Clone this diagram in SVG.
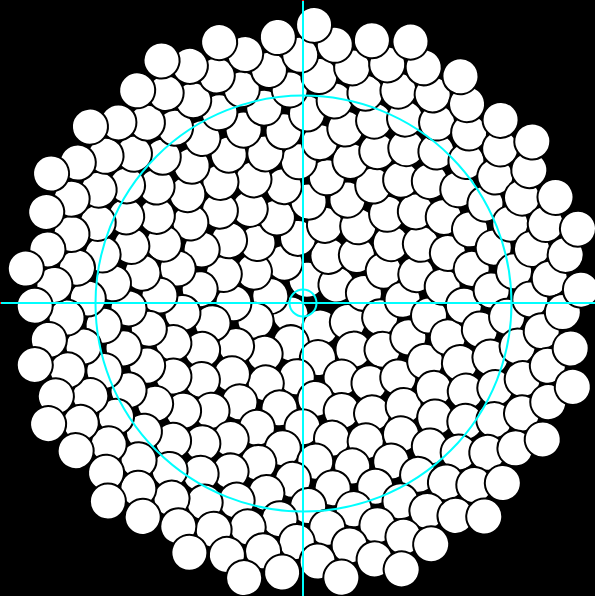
<svg xmlns="http://www.w3.org/2000/svg" width="595" height="596" viewBox="0 0 595 596">
<style>
#seeds circle{fill:#fff;stroke:#000;stroke-width:0.1176}
.cy{fill:none;stroke:#00ffff;stroke-width:2}
</style>
<rect x="0" y="0" width="595" height="596" fill="#000"/>
<g id="seeds" transform="translate(303.5 303.5) rotate(2.58) scale(17)">
<circle r="1.0588" transform="rotate(137.51)" cx="1"/>
<circle r="1.0588" transform="rotate(275.02)" cx="1.414"/>
<circle r="1.0588" transform="rotate(412.52)" cx="1.732"/>
<circle r="1.0588" transform="rotate(550.03)" cx="2"/>
<circle r="1.0588" transform="rotate(687.54)" cx="2.236"/>
<circle r="1.0588" transform="rotate(825.05)" cx="2.449"/>
<circle r="1.0588" transform="rotate(962.55)" cx="2.646"/>
<circle r="1.0588" transform="rotate(1100.06)" cx="2.828"/>
<circle r="1.0588" transform="rotate(1237.57)" cx="3"/>
<circle r="1.0588" transform="rotate(1375.08)" cx="3.162"/>
<circle r="1.0588" transform="rotate(1512.59)" cx="3.317"/>
<circle r="1.0588" transform="rotate(1650.09)" cx="3.464"/>
<circle r="1.0588" transform="rotate(1787.60)" cx="3.606"/>
<circle r="1.0588" transform="rotate(1925.11)" cx="3.742"/>
<circle r="1.0588" transform="rotate(2062.62)" cx="3.873"/>
<circle r="1.0588" transform="rotate(2200.12)" cx="4"/>
<circle r="1.0588" transform="rotate(2337.63)" cx="4.123"/>
<circle r="1.0588" transform="rotate(2475.14)" cx="4.243"/>
<circle r="1.0588" transform="rotate(2612.65)" cx="4.359"/>
<circle r="1.0588" transform="rotate(2750.16)" cx="4.472"/>
<circle r="1.0588" transform="rotate(2887.66)" cx="4.583"/>
<circle r="1.0588" transform="rotate(3025.17)" cx="4.690"/>
<circle r="1.0588" transform="rotate(3162.68)" cx="4.796"/>
<circle r="1.0588" transform="rotate(3300.19)" cx="4.899"/>
<circle r="1.0588" transform="rotate(3437.69)" cx="5"/>
<circle r="1.0588" transform="rotate(3575.20)" cx="5.099"/>
<circle r="1.0588" transform="rotate(3712.71)" cx="5.196"/>
<circle r="1.0588" transform="rotate(3850.22)" cx="5.292"/>
<circle r="1.0588" transform="rotate(3987.73)" cx="5.385"/>
<circle r="1.0588" transform="rotate(4125.23)" cx="5.477"/>
<circle r="1.0588" transform="rotate(4262.74)" cx="5.568"/>
<circle r="1.0588" transform="rotate(4400.25)" cx="5.657"/>
<circle r="1.0588" transform="rotate(4537.76)" cx="5.745"/>
<circle r="1.0588" transform="rotate(4675.26)" cx="5.831"/>
<circle r="1.0588" transform="rotate(4812.77)" cx="5.916"/>
<circle r="1.0588" transform="rotate(4950.28)" cx="6"/>
<circle r="1.0588" transform="rotate(5087.79)" cx="6.083"/>
<circle r="1.0588" transform="rotate(5225.29)" cx="6.164"/>
<circle r="1.0588" transform="rotate(5362.80)" cx="6.245"/>
<circle r="1.0588" transform="rotate(5500.31)" cx="6.325"/>
<circle r="1.0588" transform="rotate(5637.82)" cx="6.403"/>
<circle r="1.0588" transform="rotate(5775.33)" cx="6.481"/>
<circle r="1.0588" transform="rotate(5912.83)" cx="6.557"/>
<circle r="1.0588" transform="rotate(6050.34)" cx="6.633"/>
<circle r="1.0588" transform="rotate(6187.85)" cx="6.708"/>
<circle r="1.0588" transform="rotate(6325.36)" cx="6.782"/>
<circle r="1.0588" transform="rotate(6462.86)" cx="6.856"/>
<circle r="1.0588" transform="rotate(6600.37)" cx="6.928"/>
<circle r="1.0588" transform="rotate(6737.88)" cx="7"/>
<circle r="1.0588" transform="rotate(6875.39)" cx="7.071"/>
<circle r="1.0588" transform="rotate(7012.90)" cx="7.141"/>
<circle r="1.0588" transform="rotate(7150.40)" cx="7.211"/>
<circle r="1.0588" transform="rotate(7287.91)" cx="7.280"/>
<circle r="1.0588" transform="rotate(7425.42)" cx="7.348"/>
<circle r="1.0588" transform="rotate(7562.93)" cx="7.416"/>
<circle r="1.0588" transform="rotate(7700.43)" cx="7.483"/>
<circle r="1.0588" transform="rotate(7837.94)" cx="7.550"/>
<circle r="1.0588" transform="rotate(7975.45)" cx="7.616"/>
<circle r="1.0588" transform="rotate(8112.96)" cx="7.681"/>
<circle r="1.0588" transform="rotate(8250.47)" cx="7.746"/>
<circle r="1.0588" transform="rotate(8387.97)" cx="7.810"/>
<circle r="1.0588" transform="rotate(8525.48)" cx="7.874"/>
<circle r="1.0588" transform="rotate(8662.99)" cx="7.937"/>
<circle r="1.0588" transform="rotate(8800.50)" cx="8"/>
<circle r="1.0588" transform="rotate(8938.00)" cx="8.062"/>
<circle r="1.0588" transform="rotate(9075.51)" cx="8.124"/>
<circle r="1.0588" transform="rotate(9213.02)" cx="8.185"/>
<circle r="1.0588" transform="rotate(9350.53)" cx="8.246"/>
<circle r="1.0588" transform="rotate(9488.04)" cx="8.307"/>
<circle r="1.0588" transform="rotate(9625.54)" cx="8.367"/>
<circle r="1.0588" transform="rotate(9763.05)" cx="8.426"/>
<circle r="1.0588" transform="rotate(9900.56)" cx="8.485"/>
<circle r="1.0588" transform="rotate(10038.07)" cx="8.544"/>
<circle r="1.0588" transform="rotate(10175.57)" cx="8.602"/>
<circle r="1.0588" transform="rotate(10313.08)" cx="8.660"/>
<circle r="1.0588" transform="rotate(10450.59)" cx="8.718"/>
<circle r="1.0588" transform="rotate(10588.10)" cx="8.775"/>
<circle r="1.0588" transform="rotate(10725.61)" cx="8.832"/>
<circle r="1.0588" transform="rotate(10863.11)" cx="8.888"/>
<circle r="1.0588" transform="rotate(11000.62)" cx="8.944"/>
<circle r="1.0588" transform="rotate(11138.13)" cx="9"/>
<circle r="1.0588" transform="rotate(11275.64)" cx="9.055"/>
<circle r="1.0588" transform="rotate(11413.14)" cx="9.110"/>
<circle r="1.0588" transform="rotate(11550.65)" cx="9.165"/>
<circle r="1.0588" transform="rotate(11688.16)" cx="9.220"/>
<circle r="1.0588" transform="rotate(11825.67)" cx="9.274"/>
<circle r="1.0588" transform="rotate(11963.18)" cx="9.327"/>
<circle r="1.0588" transform="rotate(12100.68)" cx="9.381"/>
<circle r="1.0588" transform="rotate(12238.19)" cx="9.434"/>
<circle r="1.0588" transform="rotate(12375.70)" cx="9.487"/>
<circle r="1.0588" transform="rotate(12513.21)" cx="9.539"/>
<circle r="1.0588" transform="rotate(12650.71)" cx="9.592"/>
<circle r="1.0588" transform="rotate(12788.22)" cx="9.644"/>
<circle r="1.0588" transform="rotate(12925.73)" cx="9.695"/>
<circle r="1.0588" transform="rotate(13063.24)" cx="9.747"/>
<circle r="1.0588" transform="rotate(13200.75)" cx="9.798"/>
<circle r="1.0588" transform="rotate(13338.25)" cx="9.849"/>
<circle r="1.0588" transform="rotate(13475.76)" cx="9.899"/>
<circle r="1.0588" transform="rotate(13613.27)" cx="9.950"/>
<circle r="1.0588" transform="rotate(13750.78)" cx="10"/>
<circle r="1.0588" transform="rotate(13888.28)" cx="10.050"/>
<circle r="1.0588" transform="rotate(14025.79)" cx="10.100"/>
<circle r="1.0588" transform="rotate(14163.30)" cx="10.149"/>
<circle r="1.0588" transform="rotate(14300.81)" cx="10.198"/>
<circle r="1.0588" transform="rotate(14438.32)" cx="10.247"/>
<circle r="1.0588" transform="rotate(14575.82)" cx="10.296"/>
<circle r="1.0588" transform="rotate(14713.33)" cx="10.344"/>
<circle r="1.0588" transform="rotate(14850.84)" cx="10.392"/>
<circle r="1.0588" transform="rotate(14988.35)" cx="10.440"/>
<circle r="1.0588" transform="rotate(15125.85)" cx="10.488"/>
<circle r="1.0588" transform="rotate(15263.36)" cx="10.536"/>
<circle r="1.0588" transform="rotate(15400.87)" cx="10.583"/>
<circle r="1.0588" transform="rotate(15538.38)" cx="10.630"/>
<circle r="1.0588" transform="rotate(15675.89)" cx="10.677"/>
<circle r="1.0588" transform="rotate(15813.39)" cx="10.724"/>
<circle r="1.0588" transform="rotate(15950.90)" cx="10.770"/>
<circle r="1.0588" transform="rotate(16088.41)" cx="10.817"/>
<circle r="1.0588" transform="rotate(16225.92)" cx="10.863"/>
<circle r="1.0588" transform="rotate(16363.42)" cx="10.909"/>
<circle r="1.0588" transform="rotate(16500.93)" cx="10.954"/>
<circle r="1.0588" transform="rotate(16638.44)" cx="11"/>
<circle r="1.0588" transform="rotate(16775.95)" cx="11.045"/>
<circle r="1.0588" transform="rotate(16913.45)" cx="11.091"/>
<circle r="1.0588" transform="rotate(17050.96)" cx="11.136"/>
<circle r="1.0588" transform="rotate(17188.47)" cx="11.180"/>
<circle r="1.0588" transform="rotate(17325.98)" cx="11.225"/>
<circle r="1.0588" transform="rotate(17463.49)" cx="11.269"/>
<circle r="1.0588" transform="rotate(17600.99)" cx="11.314"/>
<circle r="1.0588" transform="rotate(17738.50)" cx="11.358"/>
<circle r="1.0588" transform="rotate(17876.01)" cx="11.402"/>
<circle r="1.0588" transform="rotate(18013.52)" cx="11.446"/>
<circle r="1.0588" transform="rotate(18151.02)" cx="11.489"/>
<circle r="1.0588" transform="rotate(18288.53)" cx="11.533"/>
<circle r="1.0588" transform="rotate(18426.04)" cx="11.576"/>
<circle r="1.0588" transform="rotate(18563.55)" cx="11.619"/>
<circle r="1.0588" transform="rotate(18701.06)" cx="11.662"/>
<circle r="1.0588" transform="rotate(18838.56)" cx="11.705"/>
<circle r="1.0588" transform="rotate(18976.07)" cx="11.747"/>
<circle r="1.0588" transform="rotate(19113.58)" cx="11.790"/>
<circle r="1.0588" transform="rotate(19251.09)" cx="11.832"/>
<circle r="1.0588" transform="rotate(19388.59)" cx="11.874"/>
<circle r="1.0588" transform="rotate(19526.10)" cx="11.916"/>
<circle r="1.0588" transform="rotate(19663.61)" cx="11.958"/>
<circle r="1.0588" transform="rotate(19801.12)" cx="12"/>
<circle r="1.0588" transform="rotate(19938.63)" cx="12.042"/>
<circle r="1.0588" transform="rotate(20076.13)" cx="12.083"/>
<circle r="1.0588" transform="rotate(20213.64)" cx="12.124"/>
<circle r="1.0588" transform="rotate(20351.15)" cx="12.166"/>
<circle r="1.0588" transform="rotate(20488.66)" cx="12.207"/>
<circle r="1.0588" transform="rotate(20626.16)" cx="12.247"/>
<circle r="1.0588" transform="rotate(20763.67)" cx="12.288"/>
<circle r="1.0588" transform="rotate(20901.18)" cx="12.329"/>
<circle r="1.0588" transform="rotate(21038.69)" cx="12.369"/>
<circle r="1.0588" transform="rotate(21176.20)" cx="12.410"/>
<circle r="1.0588" transform="rotate(21313.70)" cx="12.450"/>
<circle r="1.0588" transform="rotate(21451.21)" cx="12.490"/>
<circle r="1.0588" transform="rotate(21588.72)" cx="12.530"/>
<circle r="1.0588" transform="rotate(21726.23)" cx="12.570"/>
<circle r="1.0588" transform="rotate(21863.73)" cx="12.610"/>
<circle r="1.0588" transform="rotate(22001.24)" cx="12.649"/>
<circle r="1.0588" transform="rotate(22138.75)" cx="12.689"/>
<circle r="1.0588" transform="rotate(22276.26)" cx="12.728"/>
<circle r="1.0588" transform="rotate(22413.77)" cx="12.767"/>
<circle r="1.0588" transform="rotate(22551.27)" cx="12.806"/>
<circle r="1.0588" transform="rotate(22688.78)" cx="12.845"/>
<circle r="1.0588" transform="rotate(22826.29)" cx="12.884"/>
<circle r="1.0588" transform="rotate(22963.80)" cx="12.923"/>
<circle r="1.0588" transform="rotate(23101.30)" cx="12.961"/>
<circle r="1.0588" transform="rotate(23238.81)" cx="13"/>
<circle r="1.0588" transform="rotate(23376.32)" cx="13.038"/>
<circle r="1.0588" transform="rotate(23513.83)" cx="13.077"/>
<circle r="1.0588" transform="rotate(23651.34)" cx="13.115"/>
<circle r="1.0588" transform="rotate(23788.84)" cx="13.153"/>
<circle r="1.0588" transform="rotate(23926.35)" cx="13.191"/>
<circle r="1.0588" transform="rotate(24063.86)" cx="13.229"/>
<circle r="1.0588" transform="rotate(24201.37)" cx="13.266"/>
<circle r="1.0588" transform="rotate(24338.87)" cx="13.304"/>
<circle r="1.0588" transform="rotate(24476.38)" cx="13.342"/>
<circle r="1.0588" transform="rotate(24613.89)" cx="13.379"/>
<circle r="1.0588" transform="rotate(24751.40)" cx="13.416"/>
<circle r="1.0588" transform="rotate(24888.91)" cx="13.454"/>
<circle r="1.0588" transform="rotate(25026.41)" cx="13.491"/>
<circle r="1.0588" transform="rotate(25163.92)" cx="13.528"/>
<circle r="1.0588" transform="rotate(25301.43)" cx="13.565"/>
<circle r="1.0588" transform="rotate(25438.94)" cx="13.601"/>
<circle r="1.0588" transform="rotate(25576.44)" cx="13.638"/>
<circle r="1.0588" transform="rotate(25713.95)" cx="13.675"/>
<circle r="1.0588" transform="rotate(25851.46)" cx="13.711"/>
<circle r="1.0588" transform="rotate(25988.97)" cx="13.748"/>
<circle r="1.0588" transform="rotate(26126.47)" cx="13.784"/>
<circle r="1.0588" transform="rotate(26263.98)" cx="13.820"/>
<circle r="1.0588" transform="rotate(26401.49)" cx="13.856"/>
<circle r="1.0588" transform="rotate(26539.00)" cx="13.892"/>
<circle r="1.0588" transform="rotate(26676.51)" cx="13.928"/>
<circle r="1.0588" transform="rotate(26814.01)" cx="13.964"/>
<circle r="1.0588" transform="rotate(26951.52)" cx="14"/>
<circle r="1.0588" transform="rotate(27089.03)" cx="14.036"/>
<circle r="1.0588" transform="rotate(27226.54)" cx="14.071"/>
<circle r="1.0588" transform="rotate(27364.04)" cx="14.107"/>
<circle r="1.0588" transform="rotate(27501.55)" cx="14.142"/>
<circle r="1.0588" transform="rotate(27639.06)" cx="14.177"/>
<circle r="1.0588" transform="rotate(27776.57)" cx="14.213"/>
<circle r="1.0588" transform="rotate(27914.08)" cx="14.248"/>
<circle r="1.0588" transform="rotate(28051.58)" cx="14.283"/>
<circle r="1.0588" transform="rotate(28189.09)" cx="14.318"/>
<circle r="1.0588" transform="rotate(28326.60)" cx="14.353"/>
<circle r="1.0588" transform="rotate(28464.11)" cx="14.387"/>
<circle r="1.0588" transform="rotate(28601.61)" cx="14.422"/>
<circle r="1.0588" transform="rotate(28739.12)" cx="14.457"/>
<circle r="1.0588" transform="rotate(28876.63)" cx="14.491"/>
<circle r="1.0588" transform="rotate(29014.14)" cx="14.526"/>
<circle r="1.0588" transform="rotate(29151.65)" cx="14.560"/>
<circle r="1.0588" transform="rotate(29289.15)" cx="14.595"/>
<circle r="1.0588" transform="rotate(29426.66)" cx="14.629"/>
<circle r="1.0588" transform="rotate(29564.17)" cx="14.663"/>
<circle r="1.0588" transform="rotate(29701.68)" cx="14.697"/>
<circle r="1.0588" transform="rotate(29839.18)" cx="14.731"/>
<circle r="1.0588" transform="rotate(29976.69)" cx="14.765"/>
<circle r="1.0588" transform="rotate(30114.20)" cx="14.799"/>
<circle r="1.0588" transform="rotate(30251.71)" cx="14.832"/>
<circle r="1.0588" transform="rotate(30389.22)" cx="14.866"/>
<circle r="1.0588" transform="rotate(30526.72)" cx="14.900"/>
<circle r="1.0588" transform="rotate(30664.23)" cx="14.933"/>
<circle r="1.0588" transform="rotate(30801.74)" cx="14.967"/>
<circle r="1.0588" transform="rotate(30939.25)" cx="15"/>
<circle r="1.0588" transform="rotate(31076.75)" cx="15.033"/>
<circle r="1.0588" transform="rotate(31214.26)" cx="15.067"/>
<circle r="1.0588" transform="rotate(31351.77)" cx="15.100"/>
<circle r="1.0588" transform="rotate(31489.28)" cx="15.133"/>
<circle r="1.0588" transform="rotate(31626.79)" cx="15.166"/>
<circle r="1.0588" transform="rotate(31764.29)" cx="15.199"/>
<circle r="1.0588" transform="rotate(31901.80)" cx="15.232"/>
<circle r="1.0588" transform="rotate(32039.31)" cx="15.264"/>
<circle r="1.0588" transform="rotate(32176.82)" cx="15.297"/>
<circle r="1.0588" transform="rotate(32314.32)" cx="15.330"/>
<circle r="1.0588" transform="rotate(32451.83)" cx="15.362"/>
<circle r="1.0588" transform="rotate(32589.34)" cx="15.395"/>
<circle r="1.0588" transform="rotate(32726.85)" cx="15.427"/>
<circle r="1.0588" transform="rotate(32864.36)" cx="15.460"/>
<circle r="1.0588" transform="rotate(33001.86)" cx="15.492"/>
<circle r="1.0588" transform="rotate(33139.37)" cx="15.524"/>
<circle r="1.0588" transform="rotate(33276.88)" cx="15.556"/>
<circle r="1.0588" transform="rotate(33414.39)" cx="15.588"/>
<circle r="1.0588" transform="rotate(33551.89)" cx="15.620"/>
<circle r="1.0588" transform="rotate(33689.40)" cx="15.652"/>
<circle r="1.0588" transform="rotate(33826.91)" cx="15.684"/>
<circle r="1.0588" transform="rotate(33964.42)" cx="15.716"/>
<circle r="1.0588" transform="rotate(34101.92)" cx="15.748"/>
<circle r="1.0588" transform="rotate(34239.43)" cx="15.780"/>
<circle r="1.0588" transform="rotate(34376.94)" cx="15.811"/>
<circle r="1.0588" transform="rotate(34514.45)" cx="15.843"/>
<circle r="1.0588" transform="rotate(34651.96)" cx="15.875"/>
<circle r="1.0588" transform="rotate(34789.46)" cx="15.906"/>
<circle r="1.0588" transform="rotate(34926.97)" cx="15.937"/>
<circle r="1.0588" transform="rotate(35064.48)" cx="15.969"/>
<circle r="1.0588" transform="rotate(35201.99)" cx="16"/>
<circle r="1.0588" transform="rotate(35339.49)" cx="16.031"/>
<circle r="1.0588" transform="rotate(35477.00)" cx="16.062"/>
<circle r="1.0588" transform="rotate(35614.51)" cx="16.093"/>
<circle r="1.0588" transform="rotate(35752.02)" cx="16.125"/>
<circle r="1.0588" transform="rotate(35889.53)" cx="16.155"/>
<circle r="1.0588" transform="rotate(36027.03)" cx="16.186"/>
<circle r="1.0588" transform="rotate(36164.54)" cx="16.217"/>
<circle r="1.0588" transform="rotate(36302.05)" cx="16.248"/>
<circle r="1.0588" transform="rotate(36439.56)" cx="16.279"/>
<circle r="1.0588" transform="rotate(36577.06)" cx="16.310"/>
<circle r="1.0588" transform="rotate(36714.57)" cx="16.340"/>
<circle r="1.0588" transform="rotate(36852.08)" cx="16.371"/>
<circle r="1.0588" transform="rotate(36989.59)" cx="16.401"/>
<circle r="1.0588" transform="rotate(37127.10)" cx="16.432"/>
<circle r="1.0588" transform="rotate(37264.60)" cx="16.462"/>
<circle r="1.0588" transform="rotate(37402.11)" cx="16.492"/>
<circle r="1.0588" transform="rotate(37539.62)" cx="16.523"/>
<circle r="1.0588" transform="rotate(37677.13)" cx="16.553"/>
<circle r="1.0588" transform="rotate(37814.63)" cx="16.583"/>
<circle r="1.0588" transform="rotate(37952.14)" cx="16.613"/>
<circle r="1.0588" transform="rotate(38089.65)" cx="16.643"/>
<circle r="1.0588" transform="rotate(38227.16)" cx="16.673"/>
<circle r="1.0588" transform="rotate(38364.67)" cx="16.703"/>
<circle r="1.0588" transform="rotate(38502.17)" cx="16.733"/>
</g>
<g id="guides">
<line class="cy" x1="303" y1="0" x2="303" y2="596"/>
<line class="cy" x1="0" y1="303" x2="595" y2="303"/>
<circle class="cy" cx="303.5" cy="303.5" r="208"/>
<circle class="cy" cx="303" cy="303" r="13.5"/>
<rect x="302" y="0" width="2" height="1" fill="#ff0000"/>
<rect x="0" y="302" width="1" height="2" fill="#ff0000"/>
</g>
</svg>
